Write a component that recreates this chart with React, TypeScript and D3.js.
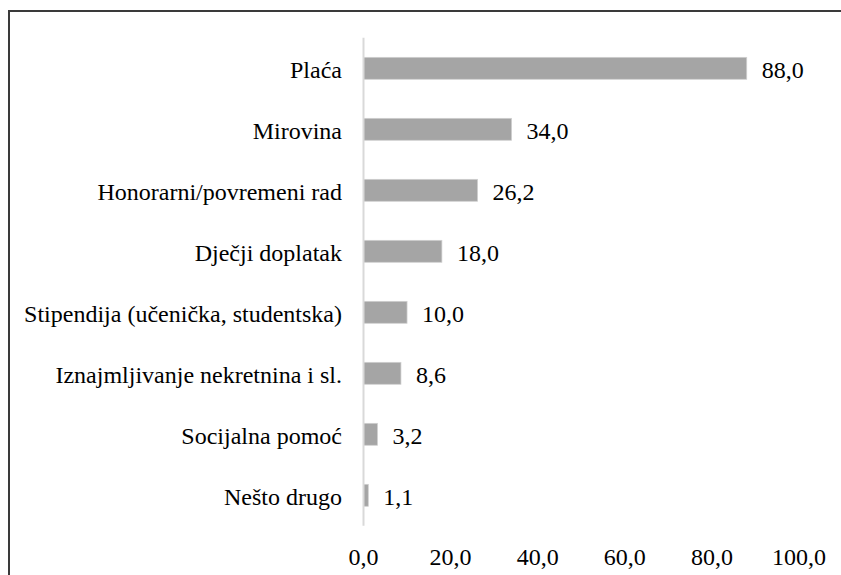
import React from "react";
import * as d3 from "d3";

const categories = [
  "Plaća",
  "Mirovina",
  "Honorarni/povremeni rad",
  "Dječji doplatak",
  "Stipendija (učenička, studentska)",
  "Iznajmljivanje nekretnina i sl.",
  "Socijalna pomoć",
  "Nešto drugo",
];
const values = [88.0, 34.0, 26.2, 18.0, 10.0, 8.6, 3.2, 1.1];
const ticks = [0, 20, 40, 60, 80, 100];

const fmt = (v: number) => v.toFixed(1).replace(".", ",");

export default function App() {
  const W = 841;
  const H = 575;
  const x = d3.scaleLinear().domain([0, 100]).range([363.5, 799]);
  const y = d3
    .scaleBand<string>()
    .domain(categories)
    .range([37.8, 525.8])
    .paddingInner(0.64)
    .paddingOuter(0.32);
  const fs = 24;
  const ts: React.CSSProperties = { fontFamily: "Liberation Serif", fontSize: fs };
  return (
    <svg
      width={W}
      height={H}
      style={{ position: "absolute", left: 0, top: 0, background: "#fff" }}
    >
      <rect x={9} y={11} width={900} height={700} fill="#fff" stroke="#3a3a3a" strokeWidth={2} />
      {categories.map((c, i) => (
        <g key={c}>
          <rect
            x={x(0)}
            y={y(c)!}
            width={x(values[i]) - x(0)}
            height={y.bandwidth()}
            fill="#a5a5a5"
            stroke="#d0d0d0"
            strokeWidth={0.75}
          />
          <text
            x={x(values[i]) + 15}
            y={y(c)! + y.bandwidth() / 2}
            dy="0.4em"
            style={ts}
            fill="#000"
          >
            {fmt(values[i])}
          </text>
          <text
            x={342}
            y={y(c)! + y.bandwidth() / 2}
            dy="0.4em"
            textAnchor="end"
            style={ts}
            fill="#000"
          >
            {c}
          </text>
        </g>
      ))}
      <line x1={x(0)} x2={x(0)} y1={37.8} y2={525.8} stroke="#d9d9d9" strokeWidth={2} />
      {ticks.map((t) => (
        <text key={t} x={x(t)} y={565} textAnchor="middle" style={ts} fill="#000">
          {fmt(t)}
        </text>
      ))}
    </svg>
  );
}
